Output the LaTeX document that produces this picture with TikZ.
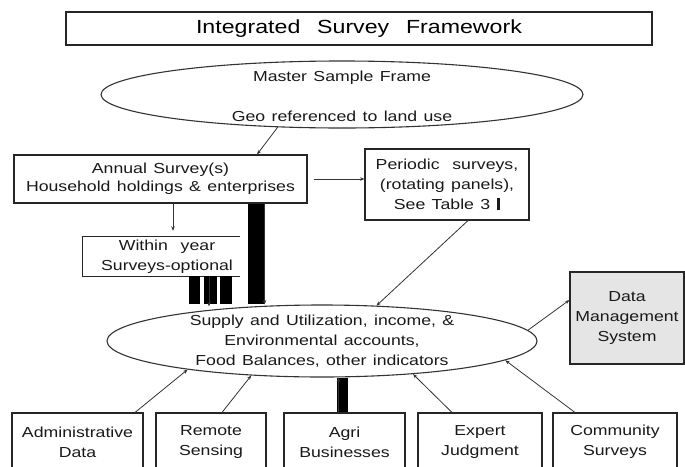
\documentclass[tikz,border=0pt]{standalone}
\usepackage{fontspec}
\setmainfont{Liberation Sans}[FakeStretch=1.22, WordSpace=1.3]
\usetikzlibrary{shapes.geometric, arrows.meta}

\begin{document}
\begin{tikzpicture}[x=1pt, y=-1pt,
  box/.style={draw=black!85, line width=1.1pt, inner sep=0pt, align=center},
  oval/.style={ellipse, draw=black!80, line width=1.1pt, inner sep=0pt},
  lbl/.style={align=center, font=\fontsize{14.5}{20}\selectfont, text=black!90},
  arr/.style={draw=black!80, line width=0.8pt, -{Stealth[length=4.5pt,width=3.5pt]}},
  thickbar/.style={draw=black, line width=#1, line cap=butt},
  thickbar/.default=14pt]

% page area
\clip (0,0) rectangle (685,466);

% title banner
\node[box, minimum width=586pt, minimum height=33pt,
      font=\fontsize{19}{22}\selectfont] (title) at (359,28.5)
      {Integrated\ \ Survey\ \ Framework};

% master sample frame
\node[oval, minimum width=482pt, minimum height=67pt] (master) at (342,94.5) {};
\node[lbl] (mastertxt) at (342,96) {Master Sample Frame\\[20pt]Geo referenced to land use};

% survey boxes
\node[box, lbl, minimum width=293pt, minimum height=48pt] (annual) at (160.5,179)
      {Annual Survey(s)\\[-2pt]Household holdings \& enterprises};
\node[box, lbl, minimum width=164pt, minimum height=71pt] (periodic) at (447,184.5)
      {Periodic\ \ surveys,\\(rotating panels),\\See Table 3 \rule[-1pt]{3.5pt}{12pt}};

% within-year box, open on its right side
\node[minimum width=157pt, minimum height=39pt, inner sep=0pt] (within) at (161.5,256.5) {};
\draw[black!85, line width=1.1pt] (within.north east) -- (within.north west)
      -- (within.south west) -- (within.south east);
\node[lbl] (withintxt) at (167,257) {Within\ \ year\\Surveys-optional};

% accounts ellipse
\node[oval, minimum width=430pt, minimum height=72pt] (supply) at (322,341) {};
\node[lbl] (supplytxt) at (322,341)
      {Supply and Utilization, income, \&\\Environmental accounts,\\Food Balances, other indicators};

% data management
\node[box, lbl, fill=black!10, minimum width=114pt, minimum height=92pt] (dms) at (627,318)
      {Data\\Management\\System};

% source boxes
\node[box, lbl, minimum width=131pt, minimum height=58pt] (admin) at (77.5,442) {Administrative\\Data};
\node[box, lbl, minimum width=110pt, minimum height=58pt] (remote) at (211,442) {Remote\\Sensing};
\node[box, lbl, minimum width=121pt, minimum height=58pt] (agri) at (344.5,442) {Agri\\Businesses};
\node[box, lbl, minimum width=124pt, minimum height=58pt] (expert) at (480,442) {Expert\\Judgment};
\node[box, lbl, minimum width=124pt, minimum height=58pt] (community) at (615,442) {Community\\Surveys};

% connectors
\draw[arr] (master.207.6) -- ([xshift=96.5pt]annual.north);
\draw[arr, shorten <=6pt] (annual.east) -- (annual.east -| periodic.west);
\draw[arr, shorten >=6pt] ([xshift=12.5pt]annual.south) -- ([xshift=12.5pt]annual.south |- within.north);
\draw[arr] ([xshift=21pt]periodic.south) -- (supply.33.9);
\draw[arr] (supply.3.6) -- ([yshift=18pt]dms.west);
\draw[arr] ([xshift=57.5pt]admin.north) -- (supply.192.1);
\draw[arr] ([xshift=11pt]remote.north) -- (supply.206.3);
\draw[arr] ([xshift=-28pt]expert.north) -- (supply.340.3);
\draw[arr] ([xshift=-40pt]community.north) -- (supply.354.4);

% heavy flows
\draw[thickbar=16pt] ([xshift=95.5pt]annual.south) -- ([xshift=95.5pt]annual.south |- supply.north);
\draw[arr] ([xshift=104pt]annual.south) -- ([xshift=104pt]annual.south |- supply.north);
\foreach \dx/\w in {33/11pt, 49/13pt, 64.5/12pt}
  \draw[thickbar=\w] ([xshift=\dx pt]within.south) -- ([xshift=\dx pt]within.south |- supply.north);
\draw[arr] ([xshift=47.5pt]within.south) -- ([xshift=47.5pt,yshift=-2pt]within.south |- supply.north);
\draw[thickbar=11pt] ([xshift=-2pt]agri.north) -- ([xshift=-2pt]agri.north |- supply.south);
\draw[arr] ([xshift=-6pt]agri.north) -- ([xshift=-6pt]agri.north |- supply.south);
\end{tikzpicture}
\end{document}
